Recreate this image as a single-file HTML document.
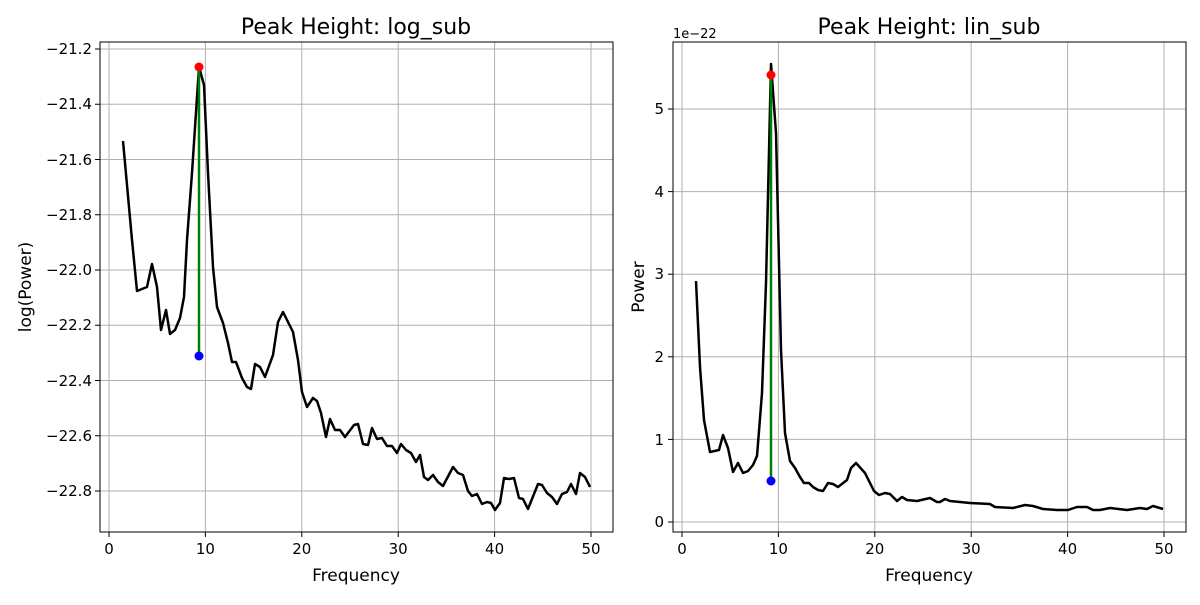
<!DOCTYPE html>
<html><head><meta charset="utf-8"><style>
body{margin:0;background:#fff;}
svg text{font-family:"DejaVu Sans","Liberation Sans",sans-serif;fill:#000;}
</style></head><body>
<svg width="1200" height="600" viewBox="0 0 1200 600" xmlns="http://www.w3.org/2000/svg">
<rect width="1200" height="600" fill="#fff"/>
<!-- LEFT -->
<g stroke="#b0b0b0" stroke-width="1">
<line x1="109" y1="42" x2="109" y2="532"/><line x1="205.4" y1="42" x2="205.4" y2="532"/><line x1="301.8" y1="42" x2="301.8" y2="532"/><line x1="398.2" y1="42" x2="398.2" y2="532"/><line x1="494.6" y1="42" x2="494.6" y2="532"/><line x1="591" y1="42" x2="591" y2="532"/>
<line x1="100" y1="49" x2="613" y2="49"/><line x1="100" y1="104.25" x2="613" y2="104.25"/><line x1="100" y1="159.5" x2="613" y2="159.5"/><line x1="100" y1="214.75" x2="613" y2="214.75"/><line x1="100" y1="270" x2="613" y2="270"/><line x1="100" y1="325.25" x2="613" y2="325.25"/><line x1="100" y1="380.5" x2="613" y2="380.5"/><line x1="100" y1="435.75" x2="613" y2="435.75"/><line x1="100" y1="491" x2="613" y2="491"/>
</g>
<polyline fill="none" stroke="#000" stroke-width="2.5" stroke-linejoin="round" points="123,141 132,240 137,291 147,287 152,264 157,287 161,330 166,310 170,334 175,330 180,318 184,297 187,240 192,173 199,67 204,85 208,173 213,267 217,307 223,323 228,343 232,362 236,362 242,378 247,387 251,389 255,364 260,367 265,377 273,355 278,322 283,312 288,322 293,332 298,360 302,392 307,407 313,398 317,401 321,413 326,437 330,419 335,430 340,430 345,437 354,425 358,424 363,444 368,445 372,428 377,439 382,438 387,446 392,446 397,453 401,444 406,450 411,453 416,462 420,455 424,477 428,480 433,475 438,482 443,486 453,467 458,473 463,475 468,491 472,496 477,494 482,504 487,502 491,503 495,510 500,503 504,478 509,479 514,478 519,498 523,499 528,509 538,484 542,485 547,493 552,497 557,504 562,494 567,492 571,484 576,494 580,473 585,477 590,487"/>
<line x1="199" y1="67" x2="199" y2="356" stroke="#008000" stroke-width="2.5"/>
<circle cx="199" cy="67" r="4.5" fill="#ff0000"/><circle cx="199" cy="356" r="4.5" fill="#0000ff"/>
<rect x="100" y="42" width="513" height="490" fill="none" stroke="#000" stroke-width="1"/>
<g stroke="#000"><line x1="109" y1="532" x2="109" y2="537"/><line x1="205.4" y1="532" x2="205.4" y2="537"/><line x1="301.8" y1="532" x2="301.8" y2="537"/><line x1="398.2" y1="532" x2="398.2" y2="537"/><line x1="494.6" y1="532" x2="494.6" y2="537"/><line x1="591" y1="532" x2="591" y2="537"/>
<line x1="95" y1="49" x2="100" y2="49"/><line x1="95" y1="104.25" x2="100" y2="104.25"/><line x1="95" y1="159.5" x2="100" y2="159.5"/><line x1="95" y1="214.75" x2="100" y2="214.75"/><line x1="95" y1="270" x2="100" y2="270"/><line x1="95" y1="325.25" x2="100" y2="325.25"/><line x1="95" y1="380.5" x2="100" y2="380.5"/><line x1="95" y1="435.75" x2="100" y2="435.75"/><line x1="95" y1="491" x2="100" y2="491"/></g>
<g font-size="15" text-anchor="middle"><text x="109" y="554">0</text><text x="205.4" y="554">10</text><text x="301.8" y="554">20</text><text x="398.2" y="554">30</text><text x="494.6" y="554">40</text><text x="591" y="554">50</text></g>
<g font-size="15" text-anchor="end"><text x="92" y="54">−21.2</text><text x="92" y="109">−21.4</text><text x="92" y="165">−21.6</text><text x="92" y="220">−21.8</text><text x="92" y="275">−22.0</text><text x="92" y="330">−22.2</text><text x="92" y="386">−22.4</text><text x="92" y="441">−22.6</text><text x="92" y="496">−22.8</text></g>
<text x="356" y="581" font-size="17" text-anchor="middle">Frequency</text>
<text transform="translate(31,287) rotate(-90)" font-size="17" text-anchor="middle">log(Power)</text>
<text x="356" y="34" font-size="22" text-anchor="middle">Peak Height: log_sub</text>
<!-- RIGHT -->
<g stroke="#b0b0b0" stroke-width="1">
<line x1="682" y1="42" x2="682" y2="532"/><line x1="778.4" y1="42" x2="778.4" y2="532"/><line x1="874.8" y1="42" x2="874.8" y2="532"/><line x1="971.2" y1="42" x2="971.2" y2="532"/><line x1="1067.6" y1="42" x2="1067.6" y2="532"/><line x1="1164" y1="42" x2="1164" y2="532"/>
<line x1="673" y1="522" x2="1186" y2="522"/><line x1="673" y1="439.4" x2="1186" y2="439.4"/><line x1="673" y1="356.8" x2="1186" y2="356.8"/><line x1="673" y1="274.2" x2="1186" y2="274.2"/><line x1="673" y1="191.6" x2="1186" y2="191.6"/><line x1="673" y1="109" x2="1186" y2="109"/>
</g>
<polyline fill="none" stroke="#000" stroke-width="2.5" stroke-linejoin="round" points="696,281 700,367 704,420 710,452 719,450 723,435 728,448 733,472 738,463 743,473 748,471 753,465 757,456 762,393 766,283 771,64 776,133 781,350 785,433 790,461 795,468 800,477 804,483 809,483 813,487 818,490 823,491 828,483 833,484 838,487 847,480 851,468 856,463 865,473 874,491 879,495 885,493 890,494 897,501 902,497 907,500 917,501 930,498 937,502 940,502 945,499 950,501 960,502 970,503 990,504 995,507 1013,508 1025,505 1033,506 1043,509 1057,510 1068,510 1077,507 1087,507 1093,510 1100,510 1110,508 1127,510 1140,508 1147,509 1153,506 1163,509"/>
<line x1="771" y1="75" x2="771" y2="481" stroke="#008000" stroke-width="2.5"/>
<circle cx="771" cy="75" r="4.5" fill="#ff0000"/><circle cx="771" cy="481" r="4.5" fill="#0000ff"/>
<rect x="673" y="42" width="513" height="490" fill="none" stroke="#000" stroke-width="1"/>
<g stroke="#000"><line x1="682" y1="532" x2="682" y2="537"/><line x1="778.4" y1="532" x2="778.4" y2="537"/><line x1="874.8" y1="532" x2="874.8" y2="537"/><line x1="971.2" y1="532" x2="971.2" y2="537"/><line x1="1067.6" y1="532" x2="1067.6" y2="537"/><line x1="1164" y1="532" x2="1164" y2="537"/>
<line x1="668" y1="522" x2="673" y2="522"/><line x1="668" y1="439.4" x2="673" y2="439.4"/><line x1="668" y1="356.8" x2="673" y2="356.8"/><line x1="668" y1="274.2" x2="673" y2="274.2"/><line x1="668" y1="191.6" x2="673" y2="191.6"/><line x1="668" y1="109" x2="673" y2="109"/></g>
<g font-size="15" text-anchor="middle"><text x="682" y="554">0</text><text x="778.4" y="554">10</text><text x="874.8" y="554">20</text><text x="971.2" y="554">30</text><text x="1067.6" y="554">40</text><text x="1164" y="554">50</text></g>
<g font-size="15" text-anchor="end"><text x="664" y="527">0</text><text x="664" y="445">1</text><text x="664" y="362">2</text><text x="664" y="279">3</text><text x="664" y="197">4</text><text x="664" y="114">5</text></g>
<text x="673" y="38" font-size="13">1e−22</text>
<text x="929" y="581" font-size="17" text-anchor="middle">Frequency</text>
<text transform="translate(644,287) rotate(-90)" font-size="17" text-anchor="middle">Power</text>
<text x="929" y="34" font-size="22" text-anchor="middle">Peak Height: lin_sub</text>
</svg>
</body></html>
